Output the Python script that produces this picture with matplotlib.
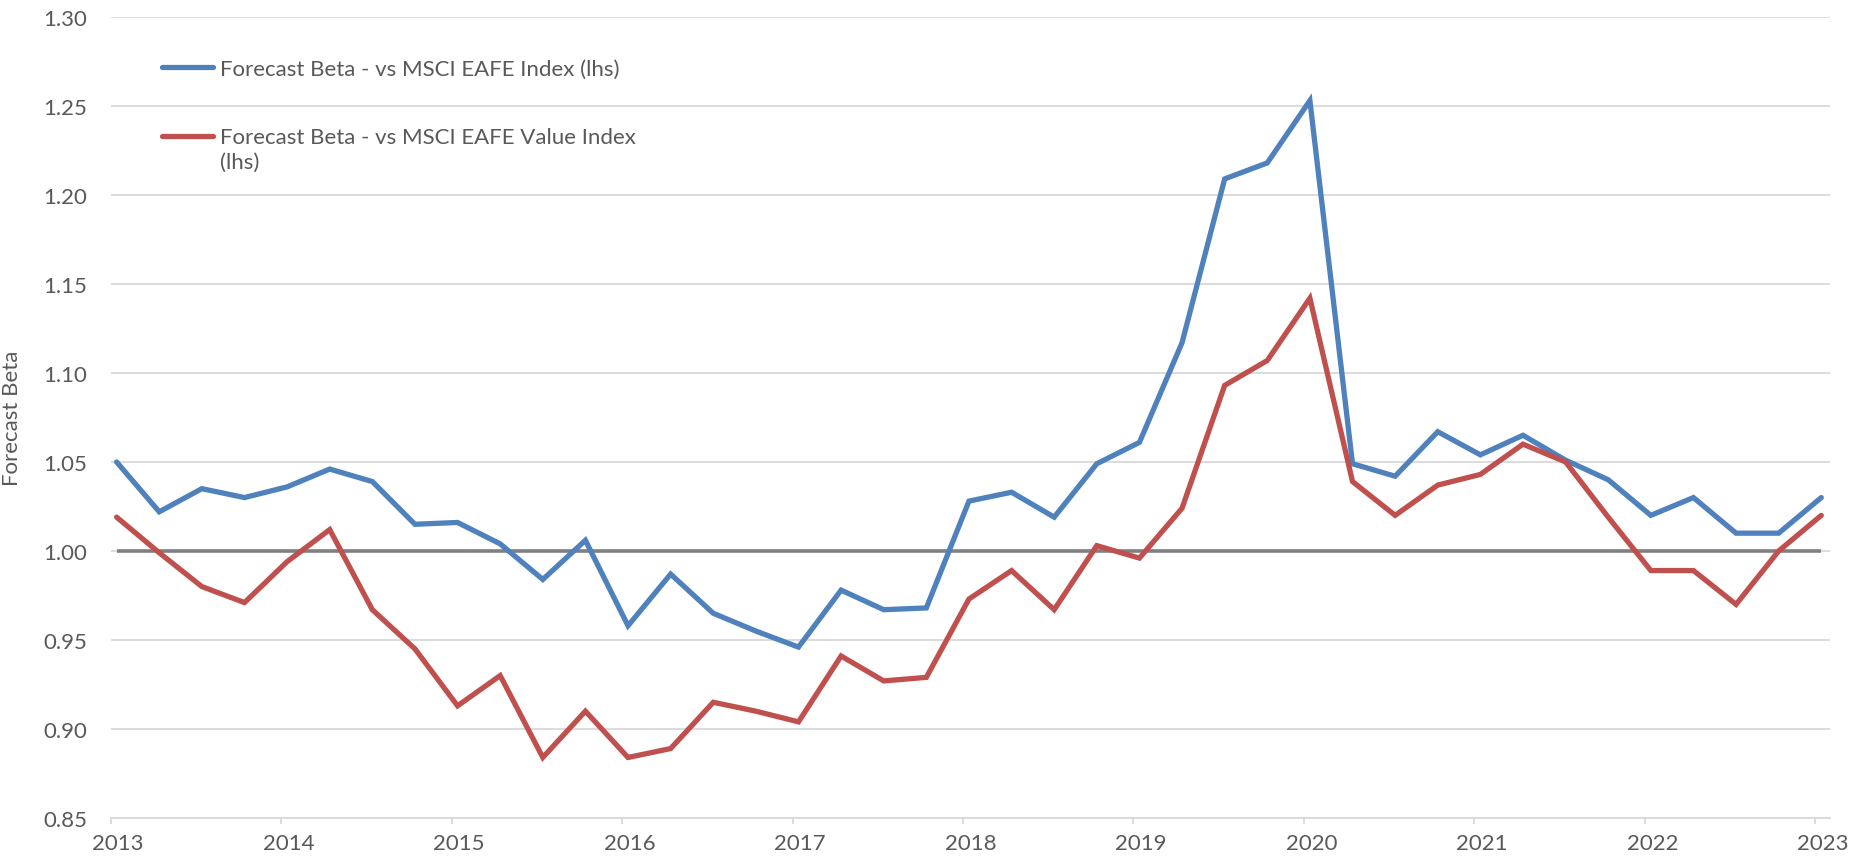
import numpy as np
import matplotlib
matplotlib.use("Agg")
import matplotlib.pyplot as plt
from matplotlib.transforms import ScaledTranslation
from matplotlib.legend_handler import HandlerLine2D

# ---- data (quarterly, Q1 2013 .. Q1 2023) ----
quarters = [f"{y}Q{q}" for y in range(2013, 2024) for q in range(1, 5)][:41]
beta_eafe = [1.050, 1.022, 1.035, 1.030, 1.036, 1.046, 1.039, 1.015, 1.016, 1.004,
             0.984, 1.006, 0.958, 0.987, 0.965, 0.955, 0.946, 0.978, 0.967, 0.968,
             1.028, 1.033, 1.019, 1.049, 1.061, 1.117, 1.209, 1.218, 1.253, 1.049,
             1.042, 1.067, 1.054, 1.065, 1.051, 1.040, 1.020, 1.030, 1.010, 1.010,
             1.030]
beta_eafe_value = [1.019, 0.999, 0.980, 0.971, 0.994, 1.012, 0.967, 0.945, 0.913, 0.930,
                   0.884, 0.910, 0.884, 0.889, 0.915, 0.910, 0.904, 0.941, 0.927, 0.929,
                   0.973, 0.989, 0.967, 1.003, 0.996, 1.024, 1.093, 1.107, 1.142, 1.039,
                   1.020, 1.037, 1.043, 1.060, 1.050, 1.019, 0.989, 0.989, 0.970, 1.000,
                   1.020]
reference_level = [1.0] * len(quarters)
year_ticks = list(range(2013, 2024))
y_ticks = [0.85, 0.90, 0.95, 1.00, 1.05, 1.10, 1.15, 1.20, 1.25, 1.30]
label_blue = "Forecast Beta - vs MSCI EAFE Index (lhs)"
label_red = "Forecast Beta - vs MSCI EAFE Value Index\n(lhs)"

# x position of each quarter (in years, data dated slightly after quarter start)
x = np.array([int(q[:4]) + (int(q[5]) - 1) / 4 + 0.035 for q in quarters])

plt.rcParams['font.family'] = ['Lato', 'DejaVu Sans']

BLUE = "#4F81BD"
RED = "#C0504D"
GREY = "#808080"
GRID = "#D9D9D9"
TXT = "#595959"
FS = 16

fig = plt.figure(figsize=(18.66, 8.62), dpi=100)
ax = fig.add_axes([0.0593, 0.0499, 0.9214, 0.9293])

ax.plot(x, reference_level, color=GREY, lw=2.6, solid_capstyle='butt', zorder=2)
ax.plot(x, beta_eafe, color=BLUE, lw=3.8, label=label_blue, zorder=3,
        solid_joinstyle='miter', solid_capstyle='round')
ax.plot(x, beta_eafe_value, color=RED, lw=3.8, label=label_red, zorder=3,
        solid_joinstyle='miter', solid_capstyle='round')

ax.set_xlim(2013, 2023.086)
ax.set_ylim(0.85, 1.30)
ax.set_yticks(y_ticks)
ax.set_yticklabels([f"{v:.2f}" for v in y_ticks])
ax.set_xticks(year_ticks)
ax.set_xticklabels([str(y) for y in year_ticks])

ax.grid(axis='y', color=GRID, lw=1.3)
ax.set_axisbelow(True)
for s in ['top', 'right', 'left']:
    ax.spines[s].set_visible(False)
ax.spines['bottom'].set_color(GRID)
ax.spines['bottom'].set_linewidth(1.3)

ax.tick_params(axis='y', length=0, pad=17, labelsize=FS, labelcolor=TXT)
ax.tick_params(axis='x', length=4.5, width=1.3, color=GRID, direction='out',
               pad=6, labelsize=FS, labelcolor=TXT)
for lab in ax.get_xticklabels():
    lab.set_transform(lab.get_transform() + ScaledTranslation(0.074, 0, fig.dpi_scale_trans))

ax.set_ylabel("Forecast Beta", fontsize=FS, color=TXT)
ax.yaxis.set_label_coords(-0.0516, 0.5)


def legend_props(legline, orig):
    legline.update_from(orig)
    if orig.get_label() == label_red:
        legline.set_ydata(np.asarray(legline.get_ydata()) + 9.7)


hm = {ln: HandlerLine2D(update_func=legend_props) for ln in ax.get_lines()[1:]}
leg = ax.legend(loc='upper left', bbox_to_anchor=(0.0298, 0.948), frameon=False,
                fontsize=FS, handlelength=2.3, handletextpad=0.3, labelspacing=2.17,
                borderpad=0, borderaxespad=0, handler_map=hm)
for t in leg.get_texts():
    t.set_color(TXT)
    t.set_linespacing(1.33)

fig.savefig("out.png", dpi=100)
